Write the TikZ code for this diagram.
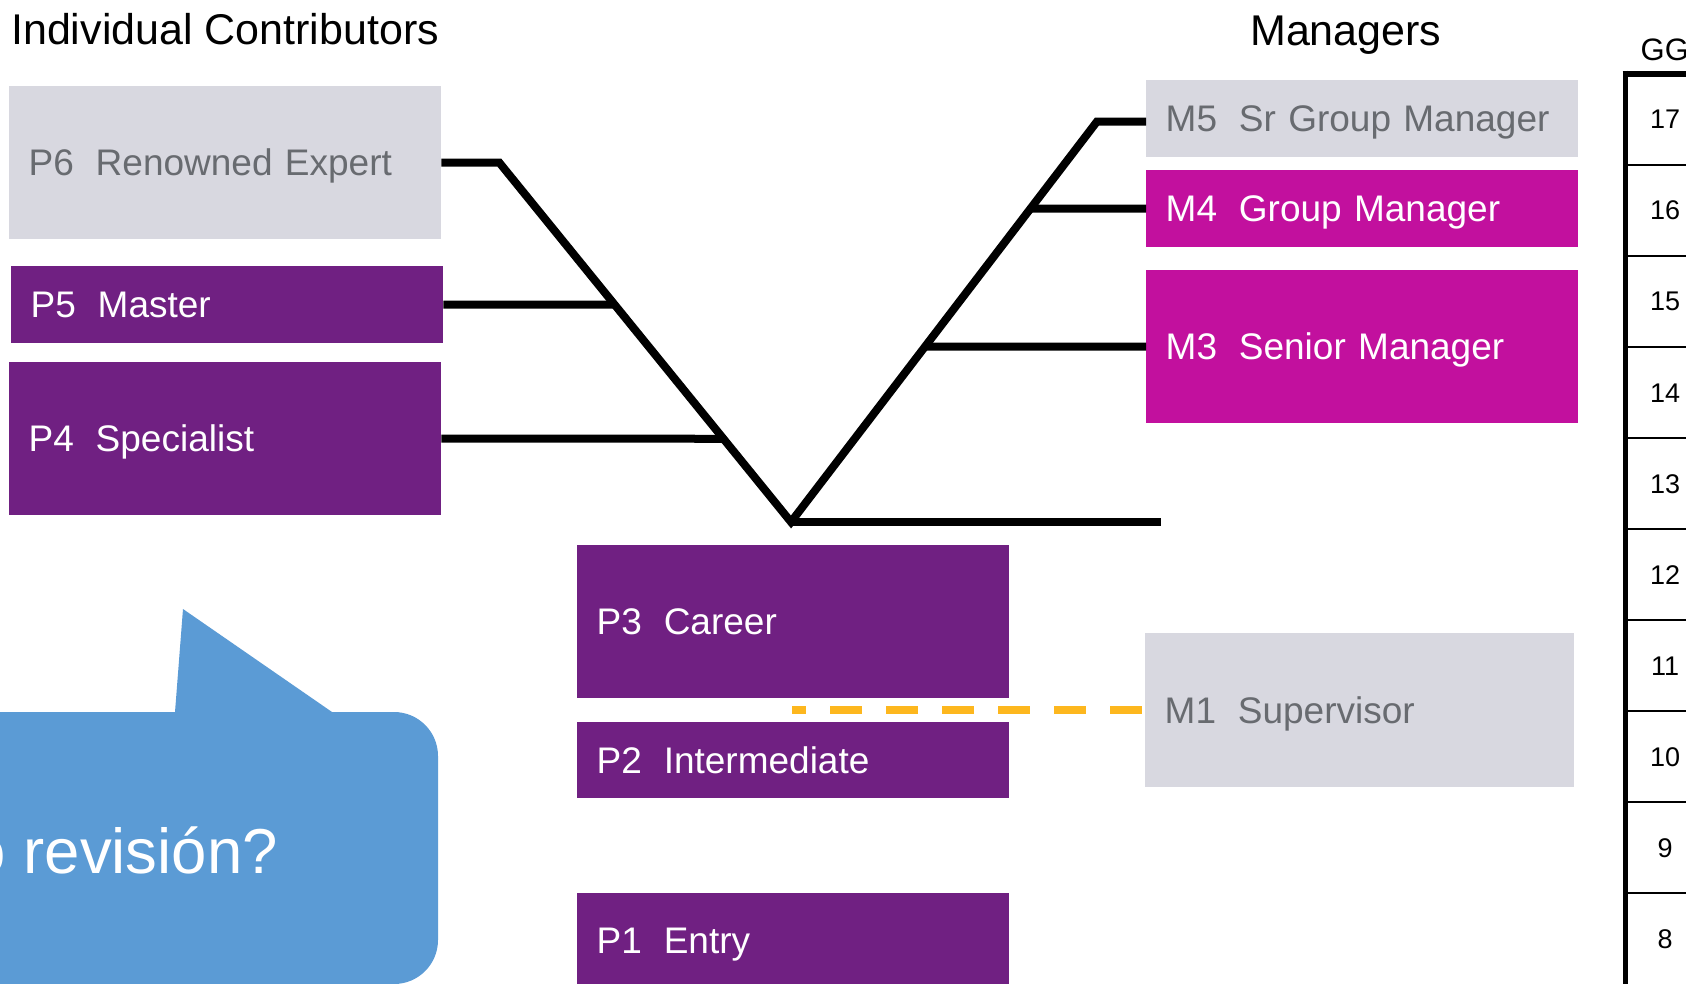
\documentclass[tikz,border=0pt]{standalone}
\usepackage{fontspec}
\setmainfont{Liberation Sans}
\usetikzlibrary{calc}

\definecolor{boxgray}{RGB}{216,216,224}
\definecolor{txtgray}{RGB}{104,107,112}
\definecolor{icpurple}{RGB}{112,32,130}
\definecolor{mgrmagenta}{RGB}{194,16,158}
\definecolor{dashorange}{RGB}{253,183,30}
\definecolor{bubbleblue}{RGB}{91,155,213}

% space between a level code and its title
\newcommand{\lvlgap}{\hspace{0.59em}}

\begin{document}
\begin{tikzpicture}[x=1pt,y=-1pt,
  rankbox/.style={rectangle, anchor=north west, inner xsep=19.5pt, inner ysep=0pt,
    minimum width=432pt, text width=393pt, align=left, minimum height=#1,
    font=\fontsize{37}{40}\selectfont, text height=26.5pt, text depth=0pt},
  greybox/.style={fill=boxgray, text=txtgray},
  purplebox/.style={fill=icpurple, text=white},
  magentabox/.style={fill=mgrmagenta, text=white},
  ladder/.style={line width=8pt, line join=miter, black},
  heading/.style={anchor=base west, inner sep=0pt, font=\fontsize{43}{47}\selectfont},
  gradenum/.style={inner sep=0pt, font=\fontsize{27}{29}\selectfont,
    text height=19.3pt, text depth=0pt},
]
\useasboundingbox (0,0) rectangle (1686,983);
\clip (0,0) rectangle (1686,983);
\fill[white] (0,0) rectangle (1686,983);

% column headings
\node[heading] (ichead) at (11,44) {Individual Contributors};
\node[heading] (mhead) at (1250,45) {Managers};

% individual contributor levels
\node[rankbox=153pt, greybox]   (p6) at (9,86)      {P6\lvlgap Renowned Expert};
\node[rankbox=77pt,  purplebox] (p5) at (11,266)    {P5\lvlgap Master};
\node[rankbox=153pt, purplebox] (p4) at (9,362)     {P4\lvlgap Specialist};
\node[rankbox=153pt, purplebox] (p3) at (577,545)   {P3\lvlgap Career};
\node[rankbox=76.5pt,purplebox] (p2) at (577,721.5) {P2\lvlgap Intermediate};
\node[rankbox=95pt,  purplebox] (p1) at (577,893)   {P1\lvlgap Entry};

% manager levels
\node[rankbox=77pt,  greybox]    (m5) at (1146,80)  {M5\lvlgap Sr Group Manager};
\node[rankbox=77pt,  magentabox] (m4) at (1146,170) {M4\lvlgap Group Manager};
\node[rankbox=153pt, magentabox] (m3) at (1146,270) {M3\lvlgap Senior Manager};
\node[rankbox=154pt, greybox, minimum width=429pt, text width=390pt] (m1) at (1145,633) {M1\lvlgap Supervisor};

% the two career ladders meeting in a V
\coordinate (lbend) at ($(p6.east)+(58,0)$);
\coordinate (vb) at (791,522);
\coordinate (rbend) at (1097,121.5);
\coordinate (hend) at (1161,522);
\draw[ladder] (p6.east) -- (lbend) -- (vb) -- (rbend) -- (rbend -| m5.west);
\draw[ladder] (vb) -- (hend);

\coordinate (p5far) at ($(p5.east)+(400,0)$);
\coordinate (p4far) at ($(p4.east)+(400,0)$);
\coordinate (m4far) at ($(m4.west)+(-400,0)$);
\coordinate (m3far) at ($(m3.west)+(-400,0)$);
\draw[ladder] (p5.east) -- (intersection of lbend--vb and p5.east--p5far);
\draw[ladder] (p4.east) -- (intersection of lbend--vb and p4.east--p4far);
\draw[ladder] (m4.west) -- (intersection of vb--rbend and m4.west--m4far);
\draw[ladder] (m3.west) -- (intersection of vb--rbend and m3.west--m3far);

% dashed link to the supervisor level
\coordinate (dstart) at (792,710);
\draw[dashorange, line width=8pt, dash pattern=on 32pt off 24pt, dash phase=18pt]
  (dstart) -- (dstart -| m1.west);

% speech bubble
\fill[bubbleblue, rounded corners=44pt] (-100,712) rectangle (438,984);
\fill[bubbleblue] (174.7,716) -- (183,609) -- (337.8,716) -- cycle;
\node[anchor=base east, inner sep=0pt, text=white, font=\fontsize{63.5}{70}\selectfont]
  (ask) at (278,873) {o revisión?};

% grade scale
\node[anchor=base west, inner sep=0pt, font=\fontsize{31}{33}\selectfont] (gg) at (1640.5,60) {GG};
\foreach \k in {1,...,9}{
  \pgfmathsetmacro{\yy}{73.5+91.1*\k}
  \draw[line width=2pt] (1625,\yy) -- (1690,\yy);
}
\foreach \g [count=\k] in {17,16,15,14,13,12,11,10,9,8}{
  \pgfmathsetmacro{\yy}{73.5+91.1*(\k-0.5)}
  \node[gradenum] (g\g) at (1665,\yy) {\g};
}
\draw[line width=6pt] (1622.5,73.7) -- (1690,73.7);
\draw[line width=5.5pt] (1625.3,70.7) -- (1625.3,990);
\end{tikzpicture}
\end{document}
